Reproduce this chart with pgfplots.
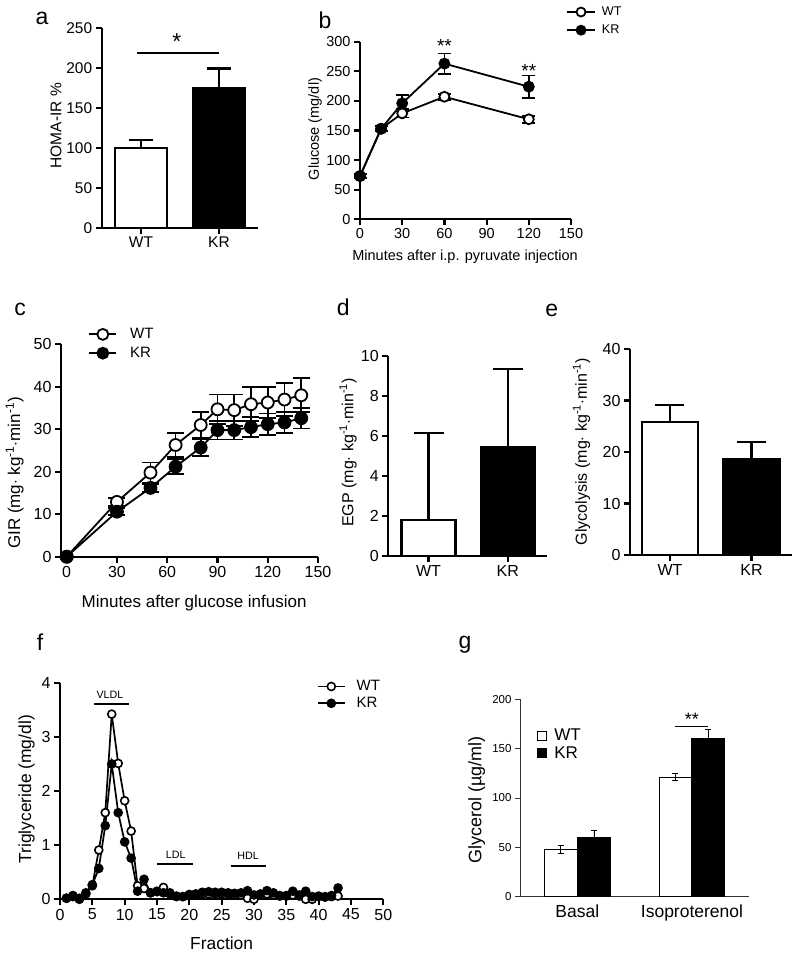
\documentclass[border=0pt]{standalone}
\usepackage{pgfplots}
\pgfplotsset{compat=1.18}
\usepackage{fontspec}
\setmainfont{Liberation Sans}
\newcommand{\fs}[1]{\fontsize{#1}{#1}\selectfont}
\pgfplotsset{
 gp/.style={
  scale only axis, anchor=south west, clip=false,
  axis lines*=left,
  axis line style={line width=2.2pt, black},
  tick style={line width=2.2pt, black},
  tick align=outside,
  major tick length=6pt,
  /pgf/number format/assume math mode=true,
  /pgf/number format/1000 sep={},
  ylabel style={anchor=center},
  xlabel style={anchor=center},
  legend cell align=left,
 },
 fs/.style={tick label style={font=\fs{#1}}},
 ls/.style={label style={font=\fs{#1}}},
 barerr/.style={error bars/.cd, y dir=plus, y explicit, error bar style={line width=2.2pt, black}, error mark options={rotate=90, mark size=#1, line width=2.2pt, black}},
 lerr/.style={error bars/.cd, y dir=both, y explicit, error bar style={line width=1.8pt, black}, error mark options={rotate=90, mark size=#1, line width=1.8pt, black}},
 lineleg/.style={legend image code/.code={\draw[mark repeat=2,mark phase=2,##1] plot coordinates {(0pt,0pt) (#1/2,0pt) (#1,0pt)};}},
}
\begin{document}
\begin{tikzpicture}
\path[use as bounding box] (0pt,0pt) rectangle (800pt,-958pt);

% ---------- a ----------
\begin{axis}[gp, fs=15.5, ls=15.5,
 at={(101.7pt,-227.7pt)}, width=156pt, height=200pt,
 xmin=-0.504, xmax=1.496, ymin=0, ymax=250,
 xtick={0,1}, xticklabels={WT,KR}, ytick={0,50,...,250},
 ylabel={HOMA-IR \%}, ylabel style={at={(axis description cs:-0.293,0.51)}},
]
\addplot[ybar, bar shift=0pt, bar width=0.667, fill=white, draw=black, line width=2.2pt, barerr=12pt] coordinates {(0,100) +- (0,10)};
\addplot[ybar, bar shift=0pt, bar width=0.667, fill=black, draw=black, line width=2.2pt, barerr=12pt] coordinates {(1,174) +- (0,25)};
\draw[line width=2pt] (axis cs:-0.05,219) -- (axis cs:1,219);
\node[font=\fs{23}, anchor=north, inner sep=0pt] at (axis cs:0.46,243) {*};
\end{axis}

% ---------- b ----------
\begin{axis}[gp, fs=14.5, ls=14.5,
 at={(360pt,-219.3pt)}, width=211pt, height=177.6pt,
 xmin=0, xmax=150, ymin=0, ymax=300,
 xtick={0,30,...,150}, ytick={0,50,...,300},
 xlabel={Minutes after i.p. pyruvate injection},
 xlabel style={at={(axis description cs:0.498,-0.21)}},
 ylabel={Glucose (mg/dl)}, ylabel style={at={(axis description cs:-0.213,0.508)}},
 lineleg=28pt,
 legend style={at={(axis description cs:0.976,1.208)}, anchor=north west, draw=none, fill=none, font=\fs{12.6}, inner sep=0pt, row sep=4pt,
   /tikz/every odd column/.append style={column sep=4pt}},
]
\addlegendimage{line width=1.8pt, black, mark=*, mark size=4.5pt, mark options={fill=white, line width=1.8pt}}
\addlegendentry{WT}
\addlegendimage{line width=1.8pt, black, mark=*, mark size=4.5pt, mark options={fill=black, line width=1.8pt}}
\addlegendentry{KR}
\addplot[forget plot, line width=1.8pt, black, mark=*, mark size=5pt, mark options={fill=white, line width=1.8pt}, lerr=6.5pt]
 coordinates {(0,73) +- (0,3) (15,153) +- (0,4) (30,179) +- (0,7) (60,207) +- (0,5) (120,169) +- (0,6)};
\addplot[forget plot, line width=1.8pt, black, mark=*, mark size=5pt, mark options={fill=black, line width=1.8pt}, lerr=6.5pt]
 coordinates {(0,73) +- (0,3) (15,153) +- (0,4) (30,196) +- (0,14) (60,263) +- (0,17) (120,224) +- (0,19)};
\node[font=\fs{19}, anchor=north, inner sep=0pt] at (axis cs:60,304) {**};
\node[font=\fs{19}, anchor=north, inner sep=0pt] at (axis cs:120,262) {**};
\end{axis}

% ---------- c ----------
\begin{axis}[gp, fs=16, ls=17,
 at={(61pt,-556.7pt)}, width=257pt, height=212.4pt,
 xmin=-3.4, xmax=150, ymin=0, ymax=50,
 xtick={0,30,...,150}, ytick={0,10,...,50},
 xlabel={Minutes after glucose infusion},
 xlabel style={at={(axis description cs:0.518,-0.218)}},
 ylabel={GIR (mg$\cdot$ kg\textsuperscript{-1}$\cdot$min\textsuperscript{-1})}, ylabel style={at={(axis description cs:-0.18,0.394)}},
 lineleg=27pt,
 legend style={at={(axis description cs:0.106,1.085)}, anchor=north west, draw=none, fill=none, font=\fs{15}, inner sep=0pt, row sep=3pt,
   /tikz/every odd column/.append style={column sep=11pt}},
]
\addlegendimage{line width=1.8pt, black, mark=*, mark size=5.5pt, mark options={fill=white, line width=1.8pt}}
\addlegendentry{WT}
\addlegendimage{line width=1.8pt, black, mark=*, mark size=5.5pt, mark options={fill=black, line width=1.8pt}}
\addlegendentry{KR}
\addplot[forget plot, line width=1.8pt, black, mark=*, mark size=6pt, mark options={fill=white, line width=1.8pt}, lerr=8.5pt]
 coordinates {(0,0) +- (0,0) (30,12.9) +- (0,1) (50,19.8) +- (0,2.4) (65,26.3) +- (0,2.8) (80,31) +- (0,3) (90,34.7) +- (0,3.5) (100,34.5) +- (0,3.7) (110,35.9) +- (0,4) (120,36.3) +- (0,3.6) (130,37) +- (0,3.8) (140,38) +- (0,4)};
\addplot[forget plot, line width=1.8pt, black, mark=*, mark size=6pt, mark options={fill=black, line width=1.8pt}, lerr=8.5pt]
 coordinates {(0,0) +- (0,0) (30,10.6) +- (0,0.8) (50,16.2) +- (0,1) (65,21.2) +- (0,1.8) (80,25.7) +- (0,2) (90,29.8) +- (0,2.2) (100,29.8) +- (0,2.2) (110,30.5) +- (0,2.3) (120,31.2) +- (0,2.5) (130,31.6) +- (0,2.5) (140,32.6) +- (0,2.4)};
\end{axis}

% ---------- d ----------
\begin{axis}[gp, fs=16, ls=16,
 at={(388.3pt,-555.7pt)}, width=158.4pt, height=199.7pt,
 xmin=-0.507, xmax=1.49, ymin=0, ymax=10,
 xtick={0,1}, xticklabels={WT,KR}, ytick={0,2,...,10},
 ylabel={EGP (mg$\cdot$ kg\textsuperscript{-1}$\cdot$min\textsuperscript{-1})}, ylabel style={at={(axis description cs:-0.254,0.517)}},
]
\addplot[ybar, bar shift=0pt, bar width=0.68, fill=white, draw=black, line width=2.2pt, barerr=15pt] coordinates {(0,1.8) +- (0,4.36)};
\addplot[ybar, bar shift=0pt, bar width=0.68, fill=black, draw=black, line width=2.2pt, barerr=15pt] coordinates {(1,5.43) +- (0,3.9)};
\end{axis}

% ---------- e ----------
\begin{axis}[gp, fs=16, ls=16,
 at={(630pt,-555pt)}, width=162.3pt, height=206pt,
 xmin=-0.49, xmax=1.5, ymin=0, ymax=40,
 xtick={0,1}, xticklabels={WT,KR}, ytick={0,10,...,40},
 ylabel={Glycolysis (mg$\cdot$ kg\textsuperscript{-1}$\cdot$min\textsuperscript{-1})}, ylabel style={at={(axis description cs:-0.298,0.502)}},
]
\addplot[ybar, bar shift=0pt, bar width=0.687, fill=white, draw=black, line width=2.2pt, barerr=14.5pt] coordinates {(0,25.8) +- (0,3.3)};
\addplot[ybar, bar shift=0pt, bar width=0.687, fill=black, draw=black, line width=2.2pt, barerr=14.5pt] coordinates {(1,18.6) +- (0,3.3)};
\end{axis}

% ---------- f ----------
\begin{axis}[gp, fs=16, ls=17.4,
 at={(60pt,-899.3pt)}, width=323.3pt, height=216.6pt,
 xmin=0, xmax=50, ymin=0, ymax=4,
 xtick={0,5,...,50}, ytick={0,1,...,4},
 xlabel={Fraction}, xlabel style={at={(axis description cs:0.5,-0.203)}},
 ylabel={Triglyceride (mg/dl)}, ylabel style={at={(axis description cs:-0.103,0.508)}},
 lineleg=27pt,
 legend style={at={(axis description cs:0.794,1.02)}, anchor=north west, draw=none, fill=none, font=\fs{15}, inner sep=0pt, row sep=1pt,
   /tikz/every odd column/.append style={column sep=9pt}},
]
\addlegendimage{line width=1.8pt, black, mark=*, mark size=4pt, mark options={fill=white, line width=1.6pt}}
\addlegendentry{WT}
\addlegendimage{line width=1.8pt, black, mark=*, mark size=4pt, mark options={fill=black, line width=1.6pt}}
\addlegendentry{KR}
\addplot[forget plot, line width=1.7pt, black, mark=*, mark size=4pt, mark options={fill=white, line width=1.6pt}] coordinates {
(1,0.02) (2,0.05) (3,0.02) (4,0.1) (5,0.25) (6,0.91) (7,1.6) (8,3.42) (9,2.51) (10,1.82)
(11,1.26) (12,0.25) (13,0.2) (14,0.12) (15,0.15) (16,0.22) (17,0.12) (18,0.06) (19,0.05) (20,0.07)
(21,0.08) (22,0.1) (23,0.1) (24,0.1) (25,0.1) (26,0.1) (27,0.08) (28,0.08) (29,0.02) (30,0.0)
(31,0.08) (32,0.1) (33,0.08) (34,0.06) (35,0.06) (36,0.08) (37,0.06) (38,0.0) (39,0.0) (40,0.05)
(41,0.04) (42,0.05) (43,0.06)};
\addplot[forget plot, line width=1.7pt, black, mark=*, mark size=4pt, mark options={fill=black, line width=1.6pt}] coordinates {
(1,0.02) (2,0.07) (3,0.0) (4,0.12) (5,0.27) (6,0.57) (7,1.36) (8,2.5) (9,1.6) (10,1.06)
(11,0.76) (12,0.15) (13,0.37) (14,0.12) (15,0.14) (16,0.12) (17,0.1) (18,0.05) (19,0.05) (20,0.09)
(21,0.1) (22,0.13) (23,0.14) (24,0.13) (25,0.13) (26,0.12) (27,0.11) (28,0.12) (29,0.16) (30,0.08)
(31,0.1) (32,0.16) (33,0.12) (34,0.07) (35,0.07) (36,0.15) (37,0.08) (38,0.15) (39,0.05) (40,0.06)
(41,0.05) (42,0.07) (43,0.21)};
\draw[line width=2pt] (axis cs:5.3,3.6) -- (axis cs:10.6,3.6);
\draw[line width=2pt] (axis cs:15.05,0.65) -- (axis cs:20.5,0.65);
\draw[line width=2pt] (axis cs:26.4,0.615) -- (axis cs:31.8,0.615);
\node[font=\fs{10.7}, anchor=base, inner sep=0pt] at (axis cs:7.73,3.70) {VLDL};
\node[font=\fs{10.7}, anchor=base, inner sep=0pt] at (axis cs:17.9,0.757) {LDL};
\node[font=\fs{10.7}, anchor=base, inner sep=0pt] at (axis cs:29.1,0.726) {HDL};
\end{axis}

% ---------- g ----------
\begin{axis}[gp, fs=11.5, ls=18,
 at={(520pt,-896.7pt)}, width=229.3pt, height=197.4pt,
 axis line style={line width=0.9pt, black!80},
 tick style={line width=0.9pt, black!80},
 major tick length=5pt,
 xmin=-0.5, xmax=1.5, ymin=0, ymax=200,
 xtick={0,1}, xticklabels={Basal,Isoproterenol},
 x tick label style={font=\fs{17.5}},
 major x tick style={draw=none},
 extra x ticks={-0.5,0.5,1.5}, extra x tick labels={},
 extra x tick style={tick style={line width=0.9pt, black!80}},
 ytick={0,50,...,200},
 ylabel={Glycerol (µg/ml)}, ylabel style={at={(axis description cs:-0.189,0.49)}},
 legend image code/.code={\draw[#1] (0pt,-4.6pt) rectangle (9.3pt,4.6pt);},
 legend style={at={(axis description cs:0.074,0.86)}, anchor=north west, draw=none, fill=none, font=\fs{17}, inner sep=0pt, row sep=0pt,
   /tikz/every odd column/.append style={column sep=5pt}},
]
\addlegendimage{draw=black, fill=white, line width=0.9pt}
\addlegendentry{WT}
\addlegendimage{draw=black, fill=black, line width=0.9pt}
\addlegendentry{KR}
\addplot[forget plot, ybar, bar shift=0pt, bar width=0.288, fill=white, draw=black, line width=0.9pt,
 error bars/.cd, y dir=both, y explicit, error bar style={line width=0.9pt, black}, error mark options={rotate=90, mark size=3pt, line width=0.9pt, black}]
 coordinates {(-0.143,48) +- (0,4) (0.856,121) +- (0,3.5)};
\addplot[forget plot, ybar, bar shift=0pt, bar width=0.288, fill=black, draw=black, line width=0.9pt,
 error bars/.cd, y dir=both, y explicit, error bar style={line width=0.9pt, black}, error mark options={rotate=90, mark size=3pt, line width=0.9pt, black}]
 coordinates {(0.145,60) +- (0,7) (1.142,160) +- (0,9)};
\draw[line width=0.9pt] (axis cs:0.852,173) -- (axis cs:1.143,173);
\node[font=\fs{18}, anchor=north, inner sep=0pt] at (axis cs:1.0,186) {**};
\end{axis}

% ---------- panel letters ----------
\node[font=\fs{23}, anchor=base] at (42pt,-25pt) {a};
\node[font=\fs{23}, anchor=base] at (325pt,-28.3pt) {b};
\node[font=\fs{23}, anchor=base] at (20pt,-315pt) {c};
\node[font=\fs{23}, anchor=base] at (343.3pt,-315pt) {d};
\node[font=\fs{23}, anchor=base] at (551.7pt,-316.7pt) {e};
\node[font=\fs{23}, anchor=base] at (40pt,-650pt) {f};
\node[font=\fs{23}, anchor=base] at (465pt,-648.3pt) {g};
\end{tikzpicture}
\end{document}
